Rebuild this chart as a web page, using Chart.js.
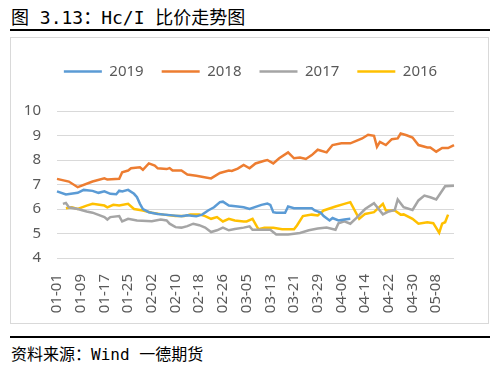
<!DOCTYPE html>
<html lang="zh">
<head>
<meta charset="utf-8">
<title>Hc/I 比价走势图</title>
<script src="https://cdn.jsdelivr.net/npm/chart.js@4"></script>
<style>
  body { margin: 0; width: 500px; height: 376px; background: #fff; position: relative; overflow: hidden; }
  #title { position: absolute; left: 11px; top: 3px; font: 18px "DejaVu Sans Mono", "Noto Sans CJK SC"; color: #000; white-space: pre; }
  .rule { position: absolute; left: 10px; width: 480px; height: 2px; background: #000; }
  #box { position: absolute; left: 10px; top: 37px; width: 477px; height: 285px; border: 1px solid #d9d9d9; }
  #src { position: absolute; left: 11px; top: 341px; font: 16px "DejaVu Sans Mono", "Noto Sans CJK SC"; color: #000; white-space: pre; }
</style>
</head>
<body>
<div id="title">图 3.13：Hc/I 比价走势图</div>
<div class="rule" style="top:29px"></div>
<div id="box"><canvas id="chart" width="477" height="285"></canvas></div>
<div class="rule" style="top:336px"></div>
<div id="src">资料来源：Wind 一德期货</div>

<script>
// --- data ---
const N = null;

// days per month, Jan..May (leap-year calendar, axis runs 01-01 .. 05-14)
const monthDays = [31, 29, 31, 30, 14];

// labels shown on the x axis
const tickLabels = ['01-01','01-09','01-17','01-25','02-02','02-10','02-18','02-26',
  '03-05','03-13','03-21','03-29','04-06','04-14','04-22','04-30','05-08'];

const seriesNames  = ['2019', '2018', '2017', '2016'];
const seriesColors = ['#5B9BD5', '#ED7D31', '#A5A5A5', '#FFC000'];

const v2019 = [
  6.72,N,N,6.59,N,N,N,6.66,N,6.78,
  N,N,6.74,N,6.66,N,6.72,N,6.62,N,
  6.6,6.75,6.72,N,6.78,N,6.62,6.48,6.21,6.0,
  N,5.87,N,N,5.8,N,N,N,N,5.74,
  N,N,5.7,N,5.74,N,N,5.7,N,5.77,
  N,5.94,N,6.07,N,6.28,6.3,N,6.14,N,
  N,6.1,N,6.07,N,6.0,N,N,N,6.17,
  N,6.22,6.17,5.87,5.85,N,N,5.85,6.1,N,
  6.03,N,N,6.03,N,N,6.03,5.94,N,5.85,
  5.71,N,5.53,5.63,N,5.53,N,5.57,N,5.6
];

const v2018 = [
  7.23,N,N,N,7.12,N,N,6.89,N,N,
  N,N,7.12,N,N,N,7.25,7.2,N,N,
  N,7.23,7.5,N,7.57,7.66,N,N,7.7,7.6,
  N,7.86,N,7.77,7.66,N,N,7.63,7.67,7.57,
  N,N,7.57,N,7.41,N,N,7.36,N,N,
  N,N,7.25,N,N,7.47,N,N,7.57,7.55,
  N,7.65,N,7.8,N,7.66,N,7.86,N,N,
  7.97,8.0,N,7.86,N,8.07,N,N,8.31,N,
  8.07,N,8.1,N,8.04,N,8.2,N,8.42,N,
  N,8.31,N,8.61,N,N,8.68,N,N,8.68,
  N,8.78,N,8.88,N,9.03,N,8.99,8.54,8.74,
  N,8.61,N,8.85,N,8.88,9.08,N,9.01,N,
  8.92,N,8.61,N,N,8.51,8.51,N,8.34,N,
  8.49,N,8.49,N,8.61
];

const v2017 = [
  N,N,6.21,6.25,6.07,N,N,6.0,N,N,
  5.9,N,5.85,N,N,N,5.67,5.57,5.67,N,
  N,5.71,5.49,N,5.6,N,N,5.53,N,N,
  N,N,5.5,N,N,5.57,N,5.53,5.4,N,
  5.26,N,5.24,N,5.3,N,5.4,N,5.34,N,
  5.24,N,5.06,N,5.13,N,5.24,N,5.13,N,
  5.18,N,N,5.24,N,5.29,5.15,N,N,N,
  N,N,5.15,N,4.96,N,N,N,4.96,N,
  N,N,5.02,N,N,5.13,N,N,5.2,N,
  N,5.24,N,N,5.15,5.42,N,5.5,N,5.4,
  N,5.63,N,N,6.0,N,N,6.24,N,N,
  5.78,N,5.9,N,5.96,6.39,N,6.07,N,N,
  5.96,N,6.35,N,6.55,N,6.48,N,6.39,N,
  N,6.93,N,N,6.95
];

const v2016 = [
  N,N,N,6.03,N,6.07,N,6.0,N,N,
  6.14,N,6.21,N,N,N,6.14,6.07,N,6.17,
  N,6.14,N,N,6.21,N,6.0,N,N,5.94,
  N,N,5.85,N,N,N,5.77,N,N,N,
  5.71,N,N,5.71,N,5.78,N,N,5.78,N,
  5.71,N,5.6,N,5.67,N,5.49,N,5.6,N,
  5.53,N,N,5.49,5.49,N,5.6,N,5.17,N,
  5.23,N,N,5.23,N,N,5.17,N,N,N,
  5.17,5.33,N,5.71,N,N,5.77,N,5.74,N,
  5.94,N,N,N,6.1,N,N,6.21,N,6.28,
  N,N,5.6,N,5.8,N,N,5.87,N,N,
  6.21,5.94,N,N,5.94,N,5.77,5.78,N,N,
  5.6,N,5.4,N,N,5.46,N,5.42,N,5.03,
  5.4,5.46,5.77
];

// build the MM-DD category list
const categories = [];
monthDays.forEach((days, m) => {
  for (let d = 1; d <= days; d++) {
    categories.push(String(m + 1).padStart(2, '0') + '-' + String(d).padStart(2, '0'));
  }
});

const seriesValues = [v2019, v2018, v2017, v2016];
const textColor = '#595959';
const gridColor = '#d9d9d9';

// legend needs extra room below it, and sits a little right of centre
const legendSpacing = {
  id: 'legendSpacing',
  beforeInit(chart) {
    const fit = chart.legend.fit;
    chart.legend.fit = function () {
      fit.call(this);
      this.height += 22;
    };
  },
  afterLayout(chart) {
    chart.legend.left += 24;
  }
};

new Chart(document.getElementById('chart'), {
  type: 'line',
  data: {
    labels: categories,
    datasets: seriesNames.map((name, i) => ({
      label: name,
      data: seriesValues[i],
      borderColor: seriesColors[i],
      backgroundColor: seriesColors[i],
      borderWidth: 2.5,
      pointRadius: 0,
      pointHoverRadius: 0,
      tension: 0,
      spanGaps: true,
      fill: false,
    }))
  },
  options: {
    responsive: false,
    animation: false,
    devicePixelRatio: 1,
    layout: { padding: { left: 0, right: 22, top: 8, bottom: 0 } },
    plugins: {
      tooltip: { enabled: false },
      legend: {
        position: 'top',
        labels: {
          usePointStyle: true,
          pointStyle: 'line',
          pointStyleWidth: 38,
          boxWidth: 38,
          padding: 18,
          color: textColor,
          font: { family: 'Noto Sans', size: 15 },
        }
      }
    },
    scales: {
      x: {
        offset: false,
        grid: { display: false, drawTicks: false },
        border: { display: false },
        ticks: {
          autoSkip: false,
          minRotation: 90,
          maxRotation: 90,
          padding: 16,
          color: textColor,
          font: { family: 'Noto Sans', size: 15 },
          callback: (v, i) => tickLabels.includes(categories[i]) ? categories[i] : '',
        },
        afterFit: s => { s.height = 65; },
      },
      y: {
        min: 4,
        max: 10,
        ticks: { stepSize: 1, padding: 16, color: textColor, font: { family: 'Noto Sans', size: 15 } },
        grid: { color: gridColor, lineWidth: 1, drawTicks: false },
        border: { display: false },
        afterFit: s => { s.width = 46; },
      }
    }
  },
  plugins: [legendSpacing]
});
</script>
</body>
</html>
